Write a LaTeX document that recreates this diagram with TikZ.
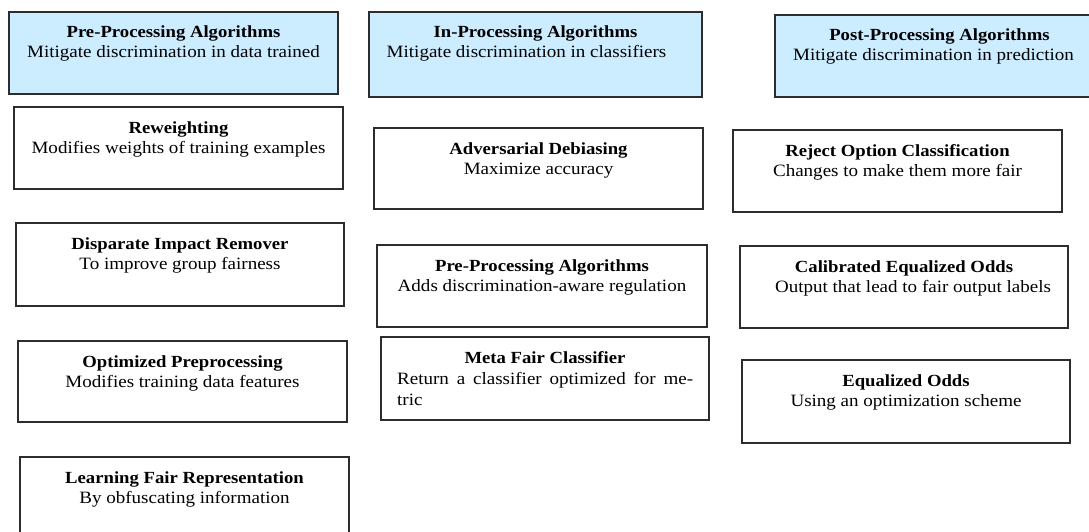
\documentclass[tikz,border=0pt]{standalone}
\usepackage{fontspec}
\setmainfont{Liberation Serif}[FakeStretch=1.1]
\definecolor{headfill}{RGB}{204,236,255}
\definecolor{edge}{RGB}{45,45,45}
\begin{document}
\begin{tikzpicture}[x=1pt,y=-1pt,
  box/.style={draw=edge, line width=1.6pt, fill=white, rectangle,
    inner sep=0pt, outer sep=0pt},
  headbox/.style={box, fill=headfill},
  ttl/.style={anchor=base, inner sep=0pt, font=\fontsize{17pt}{20pt}\selectfont\bfseries},
  sub/.style={anchor=base, inner sep=0pt, font=\fontsize{17.3pt}{20pt}\selectfont}]
\useasboundingbox (0,0) rectangle (1089,531);
\clip (0,0) rectangle (1089,531);

% ---- column headers ----
\node[headbox, minimum width=329pt, minimum height=82pt] (preH) at (173.5,53) {};
\node[headbox, minimum width=333pt, minimum height=85pt] (inH) at (535.5,54.5) {};
\node[headbox, minimum width=317pt, minimum height=82pt] (postH) at (933.5,56) {};

% ---- pre-processing column ----
\node[box, minimum width=329pt, minimum height=82pt] (rew) at (178.5,148) {};
\node[box, minimum width=328pt, minimum height=83pt] (dis) at (180,264.5) {};
\node[box, minimum width=329pt, minimum height=81pt] (opt) at (182.5,381.5) {};
\node[box, minimum width=329pt, minimum height=83pt] (lfr) at (184.5,498.5) {};

% ---- in-processing column ----
\node[box, minimum width=329pt, minimum height=81pt] (adv) at (538.5,168.5) {};
\node[box, minimum width=330pt, minimum height=82pt] (prm) at (542,286) {};
\node[box, minimum width=328pt, minimum height=83pt] (meta) at (545,378.5) {};

% ---- post-processing column ----
\node[box, minimum width=329pt, minimum height=82pt] (rej) at (897.5,171) {};
\node[box, minimum width=328pt, minimum height=82pt] (cal) at (904,287) {};
\node[box, minimum width=328pt, minimum height=83pt] (eq) at (906,401.5) {};

% ---- texts ----
\node[ttl] (preHt) at ([yshift=-25.5pt]preH.north) {Pre-Processing Algorithms};
\node[sub] (preHs) at ([yshift=-45.5pt]preH.north) {Mitigate discrimination in data trained};
\node[ttl] (inHt) at ([yshift=-25.5pt]inH.north) {In-Processing Algorithms};
\node[sub] (inHs) at ([xshift=-9pt,yshift=-45.5pt]inH.north) {Mitigate discrimination in classifiers};
\node[ttl] (postHt) at ([xshift=6pt,yshift=-25.5pt]postH.north) {Post-Processing Algorithms};
\node[sub] (postHs) at ([yshift=-45.5pt]postH.north) {Mitigate discrimination in prediction};

\node[ttl] (rewt) at ([yshift=-26pt]rew.north) {Reweighting};
\node[sub] (rews) at ([yshift=-46pt]rew.north) {Modifies weights of training examples};
\node[ttl] (dist) at ([yshift=-26pt]dis.north) {Disparate Impact Remover};
\node[sub] (diss) at ([yshift=-46pt]dis.north) {To improve group fairness};
\node[ttl] (optt) at ([yshift=-26pt]opt.north) {Optimized Preprocessing};
\node[sub] (opts) at ([yshift=-46pt]opt.north) {Modifies training data features};
\node[ttl] (lfrt) at ([yshift=-26pt]lfr.north) {Learning Fair Representation};
\node[sub] (lfrs) at ([yshift=-46pt]lfr.north) {By obfuscating information};

\node[ttl] (advt) at ([yshift=-26pt]adv.north) {Adversarial Debiasing};
\node[sub] (advs) at ([yshift=-46pt]adv.north) {Maximize accuracy};
\node[ttl] (prmt) at ([yshift=-26pt]prm.north) {Pre-Processing Algorithms};
\node[sub] (prms) at ([yshift=-46pt]prm.north) {Adds discrimination-aware regulation};
\node[ttl] (metat) at ([yshift=-26pt]meta.north) {Meta Fair Classifier};
\node[sub, anchor=base west] (metas) at ([xshift=16pt,yshift=-47pt]meta.north west)
  {\makebox[296pt][s]{Return a classifier optimized for me-}};
\node[sub, anchor=base west] (metas2) at ([xshift=16pt,yshift=-68pt]meta.north west) {tric};

\node[ttl] (rejt) at ([yshift=-26pt]rej.north) {Reject Option Classification};
\node[sub] (rejs) at ([yshift=-46pt]rej.north) {Changes to make them more fair};
\node[ttl] (calt) at ([yshift=-26pt]cal.north) {Calibrated Equalized Odds};
\node[sub] (cals) at ([xshift=9pt,yshift=-46pt]cal.north) {Output that lead to fair output labels};
\node[ttl] (eqt) at ([yshift=-26pt]eq.north) {Equalized Odds};
\node[sub] (eqs) at ([yshift=-46pt]eq.north) {Using an optimization scheme};
\end{tikzpicture}
\end{document}
